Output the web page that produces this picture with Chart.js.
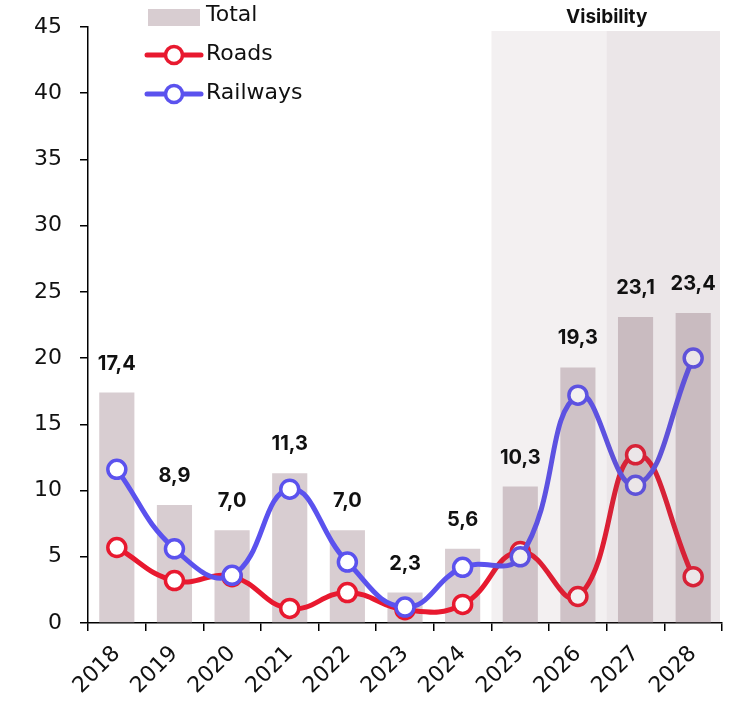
<!DOCTYPE html>
<html>
<head>
<meta charset="utf-8">
<script src="https://cdn.jsdelivr.net/npm/chart.js@4/dist/chart.umd.min.js"></script>
<style>
  html, body { margin: 0; padding: 0; background: #ffffff; }
  canvas { display: block; }
</style>
</head>
<body>
<canvas id="chart" width="736" height="702"></canvas>
<script>
// Years on the category axis
const years = ['2018', '2019', '2020', '2021', '2022', '2023', '2024', '2025', '2026', '2027', '2028'];
// Total investment per year (bars)
const totalValues = [17.4, 8.9, 7.0, 11.3, 7.0, 2.3, 5.6, 10.3, 19.3, 23.1, 23.4];
// Roads and railways (lines)
const roadsValues = [5.7, 3.2, 3.5, 1.1, 2.3, 1.0, 1.4, 5.4, 2.0, 12.7, 3.5];
const railwaysValues = [11.6, 5.6, 3.6, 10.1, 4.6, 1.2, 4.2, 5.0, 17.2, 10.4, 20.0];
// Y axis ticks
const yTicks = [0, 5, 10, 15, 20, 25, 30, 35, 40, 45];
// Shaded forecast bands: [first year, last year, tint alpha]
const visibilityBands = [['2025', '2026', 0.09], ['2027', '2028', 0.15]];
const visibilityTitle = 'Visibility';

const FONT = '"DejaVu Sans", "Liberation Sans", sans-serif';
const BOLD_FONT = 'Inter, "Noto Sans", sans-serif';
const RED = '#e8192f';
const BLUE = '#5b52ee';
const BAR = '#d8cdd1';

const fmt = v => v.toFixed(1).replace('.', ',');

// Forecast band tint, drawn over the datasets
const bandPlugin = {
  id: 'bands',
  afterDatasetsDraw(chart) {
    const { ctx, chartArea, scales } = chart;
    const x = scales.x;
    const half = (x.getPixelForValue(1) - x.getPixelForValue(0)) / 2;
    ctx.save();
    visibilityBands.forEach(([a, b, alpha]) => {
      const x0 = x.getPixelForValue(years.indexOf(a)) - half;
      const x1 = x.getPixelForValue(years.indexOf(b)) + half;
      ctx.fillStyle = `rgba(120, 90, 100, ${alpha})`;
      ctx.fillRect(x0, chartArea.top + 4, Math.min(x1, chartArea.right - 2) - x0, chartArea.bottom - chartArea.top - 4);
    });
    ctx.restore();
  }
};

// Value labels above bars, band title and legend
const labelPlugin = {
  id: 'labels',
  afterDraw(chart) {
    const { ctx, scales } = chart;
    const meta = chart.getDatasetMeta(0);
    ctx.save();
    ctx.fillStyle = '#111111';
    ctx.font = `bold 20px ${BOLD_FONT}`;
    ctx.textAlign = 'center';
    ctx.textBaseline = 'middle';
    meta.data.forEach((bar, i) => {
      ctx.fillText(fmt(totalValues[i]), bar.x, bar.y - 29);
    });

    // band title centred over both bands
    const x = scales.x;
    const half = (x.getPixelForValue(1) - x.getPixelForValue(0)) / 2;
    const bx0 = x.getPixelForValue(years.indexOf(visibilityBands[0][0])) - half;
    const bx1 = x.getPixelForValue(years.indexOf(visibilityBands[1][1])) + half;
    ctx.font = `bold 19px ${BOLD_FONT}`;
    ctx.fillText(visibilityTitle, (bx0 + bx1) / 2, 17);

    // legend
    const lx = 147, lw = 54;
    ctx.fillStyle = BAR;
    ctx.fillRect(lx + 1, 9, lw - 2, 17);
    const lines = [[chart.data.datasets[1], 55], [chart.data.datasets[2], 94]];
    lines.forEach(([ds, y]) => {
      ctx.strokeStyle = ds.borderColor;
      ctx.lineWidth = 5;
      ctx.lineCap = 'round';
      ctx.beginPath();
      ctx.moveTo(lx, y);
      ctx.lineTo(lx + lw, y);
      ctx.stroke();
      ctx.beginPath();
      ctx.arc(lx + lw / 2, y, 8.5, 0, Math.PI * 2);
      ctx.fillStyle = '#ffffff';
      ctx.fill();
      ctx.lineWidth = 3.5;
      ctx.stroke();
    });
    ctx.fillStyle = '#111111';
    ctx.font = `22px ${FONT}`;
    ctx.textAlign = 'left';
    ctx.fillText(chart.data.datasets[0].label, 206, 15);
    ctx.fillText(chart.data.datasets[1].label, 206, 54);
    ctx.fillText(chart.data.datasets[2].label, 206, 93);
    ctx.restore();
  }
};

new Chart(document.getElementById('chart'), {
  type: 'bar',
  data: {
    labels: years,
    datasets: [
      {
        label: 'Total',
        data: totalValues,
        backgroundColor: BAR,
        barPercentage: 0.61,
        categoryPercentage: 1,
        order: 2
      },
      {
        type: 'line',
        label: 'Roads',
        data: roadsValues,
        borderColor: RED,
        borderWidth: 5,
        tension: 0.45,
        pointRadius: 9,
        pointBorderWidth: 3.5,
        pointBackgroundColor: '#ffffff',
        pointBorderColor: RED,
        order: 1
      },
      {
        type: 'line',
        label: 'Railways',
        data: railwaysValues,
        borderColor: BLUE,
        borderWidth: 5,
        tension: 0.45,
        pointRadius: 9,
        pointBorderWidth: 3.5,
        pointBackgroundColor: '#ffffff',
        pointBorderColor: BLUE,
        order: 0
      }
    ]
  },
  options: {
    responsive: false,
    animation: false,
    layout: { padding: { top: 27, right: 14, left: 0, bottom: 0 } },
    plugins: {
      legend: { display: false },
      tooltip: { enabled: false }
    },
    scales: {
      x: {
        afterFit(scale) { scale.height = 79; },
        grid: { display: true, drawOnChartArea: false, drawTicks: true, tickLength: 8, color: '#000000', lineWidth: 1.5, offset: true },
        border: { display: true, color: '#000000', width: 1.5 },
        ticks: {
          color: '#111111',
          font: { family: FONT, size: 22 },
          minRotation: 45,
          maxRotation: 45,
          padding: 10
        }
      },
      y: {
        min: 0,
        max: 45,
        afterFit(scale) {
          scale.width = 88;
          scale.paddingTop = 0;
          scale.paddingBottom = 0;
        },
        afterBuildTicks(scale) { scale.ticks = yTicks.map(v => ({ value: v })); },
        grid: { display: true, drawOnChartArea: false, drawTicks: true, tickLength: 8, color: '#000000', lineWidth: 1.5 },
        border: { display: true, color: '#000000', width: 1.5 },
        ticks: {
          color: '#111111',
          font: { family: FONT, size: 22 },
          padding: 18
        }
      }
    }
  },
  plugins: [bandPlugin, labelPlugin]
});
</script>
</body>
</html>
